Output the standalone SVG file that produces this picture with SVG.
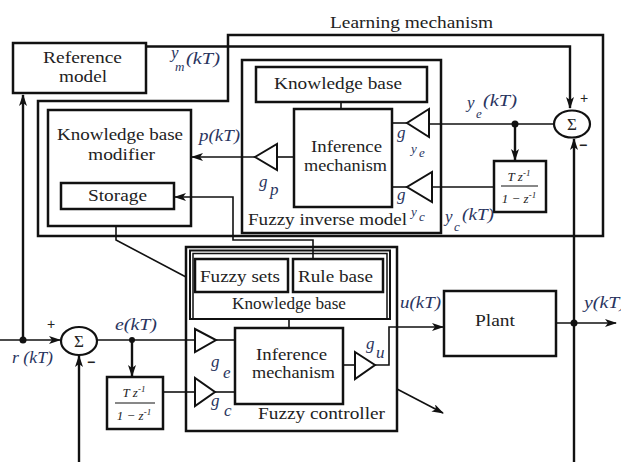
<svg xmlns="http://www.w3.org/2000/svg" width="621" height="462" viewBox="0 0 621 462">
<defs>
<style>
.box{fill:#fff;stroke:#111;stroke-width:2.5}
.nb{fill:none;stroke:#111;stroke-width:2.5}
.ln{fill:none;stroke:#111;stroke-width:1.6}
.tk{fill:none;stroke:#111;stroke-width:2.4}
.tri{fill:#fff;stroke:#111;stroke-width:2}
.t{font-family:"Liberation Serif",serif;font-size:17px;fill:#222}
.i{font-family:"Liberation Serif",serif;font-style:italic;font-size:17px;fill:#2a3560}
.s{font-family:"Liberation Serif",serif;font-style:italic;font-size:13px;fill:#2a3560}
.f{font-family:"Liberation Serif",serif;font-style:italic;font-size:13px;fill:#222}
.pm{font-family:"Liberation Sans",sans-serif;font-size:14px;fill:#222}
</style>
<marker id="ar" viewBox="0 0 12 8" refX="11" refY="4" markerWidth="12" markerHeight="8" markerUnits="userSpaceOnUse" orient="auto">
<path d="M0,0 L12,4 L0,8 L3,4 z" fill="#111"/>
</marker>
</defs>
<rect width="621" height="462" fill="#fff"/>

<g id="learning-mechanism">
<path class="nb" d="M228,35 H603 V236 H38 V101 H228 Z"/>
<text class="t" x="330" y="28" textLength="163" lengthAdjust="spacingAndGlyphs">Learning mechanism</text>
</g>

<g id="reference-model">
<rect class="box" x="13" y="43" width="133" height="50"/>
<text class="t" x="43" y="63" textLength="79" lengthAdjust="spacingAndGlyphs">Reference</text>
<text class="t" x="59" y="82" textLength="48" lengthAdjust="spacingAndGlyphs">model</text>
</g>

<g id="kb-modifier">
<rect class="box" x="48" y="110" width="143" height="116"/>
<text class="t" x="57" y="140" textLength="126" lengthAdjust="spacingAndGlyphs">Knowledge base</text>
<text class="t" x="88" y="160" textLength="67" lengthAdjust="spacingAndGlyphs">modifier</text>
</g>

<g id="storage">
<rect class="box" x="61" y="183" width="113" height="26"/>
<text class="t" x="88" y="201" textLength="59" lengthAdjust="spacingAndGlyphs">Storage</text>
</g>

<g id="fuzzy-inverse-model">
<rect class="box" x="242" y="60" width="199" height="173"/>
<text class="t" x="248" y="225" textLength="159" lengthAdjust="spacingAndGlyphs">Fuzzy inverse model</text>
</g>

<g id="inv-knowledge-base">
<rect class="box" x="256" y="67" width="171" height="35"/>
<text class="t" x="274" y="89" textLength="128" lengthAdjust="spacingAndGlyphs">Knowledge base</text>
</g>

<g id="inv-inference">
<rect class="box" x="294" y="109" width="98" height="98"/>
<text class="t" x="311" y="152" textLength="71" lengthAdjust="spacingAndGlyphs">Inference</text>
<text class="t" x="304" y="171" textLength="83" lengthAdjust="spacingAndGlyphs">mechanism</text>
</g>

<g id="sum-top">
<ellipse cx="572" cy="124" rx="18" ry="13.5" fill="#fff" stroke="#111" stroke-width="2.2"/>
<text class="t" x="572" y="130" text-anchor="middle" font-size="17">Σ</text>
<text class="pm" x="580" y="103">+</text>
<text class="pm" x="579" y="150" font-weight="bold">−</text>
</g>

<g id="tz-top">
<rect class="box" x="494" y="161" width="52" height="51"/>
<text class="f" x="519" y="181" text-anchor="middle">T z<tspan font-size="9" dy="-5">-1</tspan></text>
<line x1="501" y1="186" x2="538" y2="186" stroke="#111" stroke-width="1"/>
<text class="f" x="519" y="203" text-anchor="middle">1 − z<tspan font-size="9" dy="-5">-1</tspan></text>
</g>

<g id="gain-ye">
<polygon class="tri" points="429,109 429,137 407,123"/>
<text class="i" x="397" y="138" font-size="15">g</text>
<text class="s" x="411" y="153">y</text><text class="s" x="419" y="157" font-size="11">e</text>
</g>
<g id="gain-yc">
<polygon class="tri" points="432,172 432,202 407,187"/>
<text class="i" x="397" y="200" font-size="15">g</text>
<text class="s" x="411" y="216">y</text><text class="s" x="419" y="221" font-size="11">c</text>
</g>
<g id="gain-p">
<polygon class="tri" points="277,144 277,170 255,157"/>
<text class="i" x="259" y="187" font-size="15">g</text>
<text class="i" x="270" y="195" font-size="15">p</text>
</g>

<g id="fuzzy-controller">
<rect class="box" x="186" y="247" width="211" height="184"/>
<text class="t" x="258" y="419" textLength="127" lengthAdjust="spacingAndGlyphs">Fuzzy controller</text>
</g>

<g id="ctrl-knowledge-base">
<rect x="190" y="250.5" width="200" height="68.5" fill="#fff" stroke="#111" stroke-width="2"/>
<rect x="193" y="253.5" width="194" height="65.5" fill="none" stroke="#111" stroke-width="1.5"/>
<text class="t" x="232" y="309" textLength="114" lengthAdjust="spacingAndGlyphs">Knowledge base</text>
</g>

<g id="fuzzy-sets">
<rect class="box" x="195" y="259" width="93" height="33"/>
<text class="t" x="200" y="282" textLength="80" lengthAdjust="spacingAndGlyphs">Fuzzy sets</text>
</g>

<g id="rule-base">
<rect class="box" x="293" y="259" width="90" height="33"/>
<text class="t" x="298" y="282" textLength="75" lengthAdjust="spacingAndGlyphs">Rule base</text>
</g>

<g id="ctrl-inference">
<rect class="box" x="235" y="328" width="108" height="76"/>
<text class="t" x="256" y="360" font-size="15" textLength="71" lengthAdjust="spacingAndGlyphs">Inference</text>
<text class="t" x="252" y="378" font-size="15" textLength="83" lengthAdjust="spacingAndGlyphs">mechanism</text>
</g>

<g id="gain-e">
<polygon class="tri" points="195,329 195,352 216,340"/>
<text class="i" x="211" y="367" font-size="15">g</text>
<text class="i" x="223" y="378" font-size="15">e</text>
</g>
<g id="gain-c">
<polygon class="tri" points="195,378 195,406 215,392"/>
<text class="i" x="211" y="406" font-size="15">g</text>
<text class="i" x="224" y="416" font-size="15">c</text>
</g>
<g id="gain-u">
<polygon class="tri" points="355,352 355,379 375,365"/>
<text class="i" x="366" y="349" font-size="15">g</text>
<text class="i" x="376" y="358" font-size="15">u</text>
</g>

<g id="sum-bottom">
<ellipse cx="79" cy="341" rx="18" ry="14" fill="#fff" stroke="#111" stroke-width="2.2"/>
<text class="t" x="79" y="347" text-anchor="middle" font-size="17">Σ</text>
<text class="pm" x="47" y="329">+</text>
<text class="pm" x="87" y="367" font-weight="bold">−</text>
</g>

<g id="tz-bottom">
<rect class="box" x="107" y="377" width="56" height="52"/>
<text class="f" x="134" y="397" text-anchor="middle">T z<tspan font-size="9" dy="-5">-1</tspan></text>
<line x1="115" y1="403" x2="155" y2="403" stroke="#111" stroke-width="1"/>
<text class="f" x="134" y="420" text-anchor="middle">1 − z<tspan font-size="9" dy="-5">-1</tspan></text>
</g>

<g id="plant">
<rect class="box" x="444" y="291" width="112" height="65"/>
<text class="t" x="475" y="326" textLength="40" lengthAdjust="spacingAndGlyphs">Plant</text>
</g>

<g id="connectors">
<path class="tk" d="M146,46.5 H570 V108" marker-end="url(#ar)"/>
<path class="ln" d="M0,340 H60" marker-end="url(#ar)"/>
<path class="tk" d="M23,340 V95" marker-end="url(#ar)"/>
<circle cx="23" cy="340" r="3.5" fill="#111"/>
<path class="tk" d="M79,462 V356" marker-end="url(#ar)"/>
<path class="ln" d="M97,340 H195"/>
<circle cx="132" cy="340" r="3" fill="#111"/>
<path class="tk" d="M132,340 V376" marker-end="url(#ar)"/>
<path class="ln" d="M163,392 H195"/>
<path class="ln" d="M216,340 H235"/>
<path class="ln" d="M215,392 H235"/>
<path class="ln" d="M343,365 H355"/>
<path class="ln" d="M375,365 H389 V327 H443" marker-end="url(#ar)"/>
<path class="ln" d="M556,323 H616" marker-end="url(#ar)"/>
<path class="tk" d="M574,462 V139" marker-end="url(#ar)"/>
<circle cx="574" cy="323" r="3.5" fill="#111"/>
<path class="ln" d="M554,124 H429"/>
<circle cx="515" cy="124" r="3.5" fill="#111"/>
<path class="tk" d="M515,124 V160" marker-end="url(#ar)"/>
<path class="ln" d="M494,187 H432"/>
<path class="ln" d="M407,123 H392"/>
<path class="ln" d="M407,187 H392"/>
<path class="ln" d="M294,157 H277"/>
<path class="ln" d="M255,157 H192" marker-end="url(#ar)"/>
<path class="ln" d="M313,259 V240 H233 V197 H175" marker-end="url(#ar)"/>
<path class="ln" d="M116,226 V240 L186,277"/>
<path class="ln" d="M341,102 V109"/>
<path class="ln" d="M289,319 V328"/>
<path class="ln" d="M397,389 L443,413" marker-end="url(#ar)"/>
</g>

<g id="labels">
<text class="i" x="171" y="58" font-size="15">y</text><text class="s" x="175" y="71">m</text><text class="i" x="186" y="64" textLength="34" lengthAdjust="spacingAndGlyphs">(kT)</text>
<text class="i" x="199" y="141" textLength="41" lengthAdjust="spacingAndGlyphs">p(kT)</text>
<text class="i" x="467" y="108">y</text><text class="s" x="476" y="118">e</text><text class="i" x="483" y="106" textLength="34" lengthAdjust="spacingAndGlyphs">(kT)</text>
<text class="i" x="445" y="222">y</text><text class="s" x="454" y="231">c</text><text class="i" x="462" y="220" textLength="32" lengthAdjust="spacingAndGlyphs">(kT)</text>
<text class="i" x="115" y="330" textLength="42" lengthAdjust="spacingAndGlyphs">e(kT)</text>
<text class="i" x="12" y="363" textLength="41" lengthAdjust="spacingAndGlyphs">r (kT)</text>
<text class="i" x="400" y="308" textLength="41" lengthAdjust="spacingAndGlyphs">u(kT)</text>
<text class="i" x="584" y="308" textLength="42" lengthAdjust="spacingAndGlyphs">y(kT)</text>
</g>
</svg>
